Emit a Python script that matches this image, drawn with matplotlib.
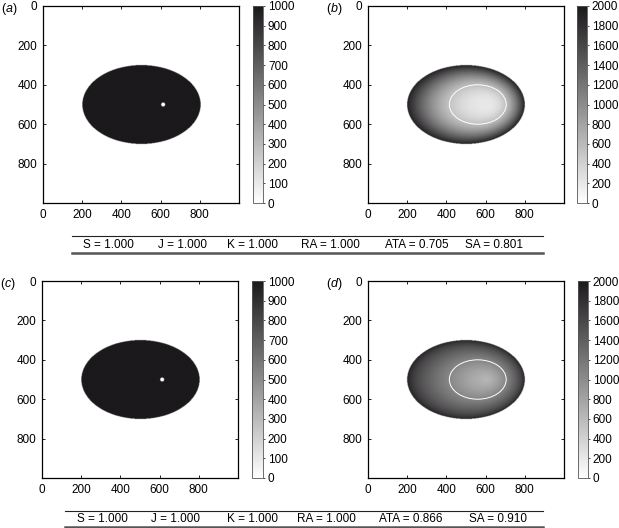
"""
Four-panel dose map figure with metric tables under each row.
"""

import matplotlib
matplotlib.use("Agg")
import matplotlib.pyplot as plt
import numpy as np
from matplotlib.colors import LinearSegmentedColormap
from matplotlib.lines import Line2D
from matplotlib.patches import Ellipse

plt.rcParams["font.family"] = ["Liberation Sans", "DejaVu Sans"]
plt.rcParams["mathtext.fontset"] = "custom"
plt.rcParams["mathtext.rm"] = "Liberation Sans"
plt.rcParams["mathtext.it"] = "Liberation Sans:italic"

# geometry of the phantom (pixel units)
GRID_SIZE = 1000
BODY_CENTER = (500, 500)
BODY_AXES = (300, 200)            # semi-axes x, y
SOURCE = (610, 500)
SOURCE_RADIUS = 10
TARGET_CENTER = (560, 500)
TARGET_AXES = (145, 100)

# value ranges
FLUENCE_LEVEL = 1000
FLUENCE_MAX = 1000
DOSE_MAX = 2000
DOSE_B = (200, 1800, 2.3)         # value at source, rise to edge, exponent
DOSE_D = (650, 1100, 1.4)

TICKS = [0, 200, 400, 600, 800]
FLUENCE_TICKS = list(range(0, 1001, 100))
DOSE_TICKS = list(range(0, 2001, 200))

METRICS = ["S", "J", "K", "RA", "ATA", "SA"]
ROW_TOP = [1.000, 1.000, 1.000, 1.000, 0.705, 0.801]
ROW_BOTTOM = [1.000, 1.000, 1.000, 1.000, 0.866, 0.910]

CMAP = LinearSegmentedColormap.from_list("grey", ["#ffffff", "#1b191b"])
FS = 8.5


def ray_fraction():
    n = 500
    c = (np.arange(n) + 0.5) * GRID_SIZE / n
    x, y = np.meshgrid(c, c)
    xc, yc = BODY_CENTER
    a, b = BODY_AXES
    x0, y0 = SOURCE
    ux, uy = x - x0, y - y0
    dx, dy = x0 - xc, y0 - yc
    qa = (ux / a) ** 2 + (uy / b) ** 2
    qb = 2 * (dx * ux / a**2 + dy * uy / b**2)
    qc = (dx / a) ** 2 + (dy / b) ** 2 - 1
    qa = np.where(qa == 0, 1e-12, qa)
    t = (-qb + np.sqrt(qb**2 - 4 * qa * qc)) / (2 * qa)
    s = 1.0 / t
    inside = ((x - xc) / a) ** 2 + ((y - yc) / b) ** 2 <= 1
    dist = np.hypot(x - x0, y - y0)
    return s, inside, dist


def fluence_map():
    s, inside, dist = ray_fraction()
    img = np.where(inside, FLUENCE_LEVEL, 0.0)
    img[dist <= SOURCE_RADIUS] = 0
    return img


def dose_map(params):
    lo, rise, p = params
    s, inside, dist = ray_fraction()
    s = np.clip(s, 0, 1)
    val = lo + rise * s**p + (DOSE_MAX - 80 - lo - rise) * s**14
    return np.where(inside, val, 0.0)


def draw_panel(fig, rect, cbar_rect, img, vmax, cticks, letter, target=False):
    ax = fig.add_axes(rect)
    ax.imshow(img, cmap=CMAP, vmin=0, vmax=vmax, extent=(0, GRID_SIZE, GRID_SIZE, 0),
              aspect="auto", interpolation="bilinear")
    if target:
        ax.add_patch(Ellipse(TARGET_CENTER, 2 * TARGET_AXES[0], 2 * TARGET_AXES[1],
                             fill=False, edgecolor="white", linewidth=0.7))
    ax.set_xlim(0, GRID_SIZE)
    ax.set_ylim(GRID_SIZE, 0)
    ax.set_xticks(TICKS)
    ax.set_yticks(TICKS)
    ax.tick_params(direction="in", length=2.5, width=0.6, labelsize=FS,
                   top=True, right=True, pad=4)
    for sp in ax.spines.values():
        sp.set_linewidth(0.9)
    ax.text(-0.215, 0.985, rf"($\it{{{letter}}}$)", transform=ax.transAxes,
            fontsize=9, ha="left", va="center")

    cax = fig.add_axes(cbar_rect)
    cb = fig.colorbar(ax.images[0], cax=cax, ticks=cticks)
    cb.outline.set_linewidth(0.6)
    cb.outline.set_edgecolor("#555555")
    cax.tick_params(direction="out", length=1.5, width=0.5, labelsize=FS, pad=2)
    return ax


def draw_table(fig, y_top, y_bot, x0, x1, x_text, values):
    H = 528.0
    W = 619.0
    fig.add_artist(Line2D([x0 / W, x1 / W], [1 - y_top / H] * 2, color="#222222", lw=0.8))
    fig.add_artist(Line2D([x0 / W, x1 / W], [1 - y_bot / H] * 2, color="#555555", lw=1.8))
    yc = 1 - (y_top + y_bot) / 2 / H
    for name, val, xt in zip(METRICS, values, x_text):
        fig.text(xt / W, yc, f"{name} = {val:.3f}", fontsize=FS, ha="left", va="center")


def main():
    fig = plt.figure(figsize=(6.19, 5.28), dpi=100)

    fl = fluence_map()
    db = dose_map(DOSE_B)
    dd = dose_map(DOSE_D)

    W, H = 619.0, 528.0

    def r(l, t, w, h):
        return [l / W, 1 - (t + h) / H, w / W, h / H]

    draw_panel(fig, r(43, 6, 196, 197), r(253, 6, 10, 197), fl, FLUENCE_MAX, FLUENCE_TICKS, "a")
    draw_panel(fig, r(368, 6, 196, 197), r(577, 6, 10, 197), db, DOSE_MAX, DOSE_TICKS, "b", True)
    draw_panel(fig, r(42, 281, 196, 197), r(252, 281, 11, 197), fl, FLUENCE_MAX, FLUENCE_TICKS, "c")
    draw_panel(fig, r(368, 281, 196, 197), r(578, 281, 10, 197), dd, DOSE_MAX, DOSE_TICKS, "d", True)

    draw_table(fig, 236, 253, 72, 543, [83, 158, 227, 301, 385, 465], ROW_TOP)
    draw_table(fig, 511, 527, 65, 543, [77, 151, 227, 297, 379, 469], ROW_BOTTOM)

    fig.savefig("out.png", dpi=100)


if __name__ == "__main__":
    main()
